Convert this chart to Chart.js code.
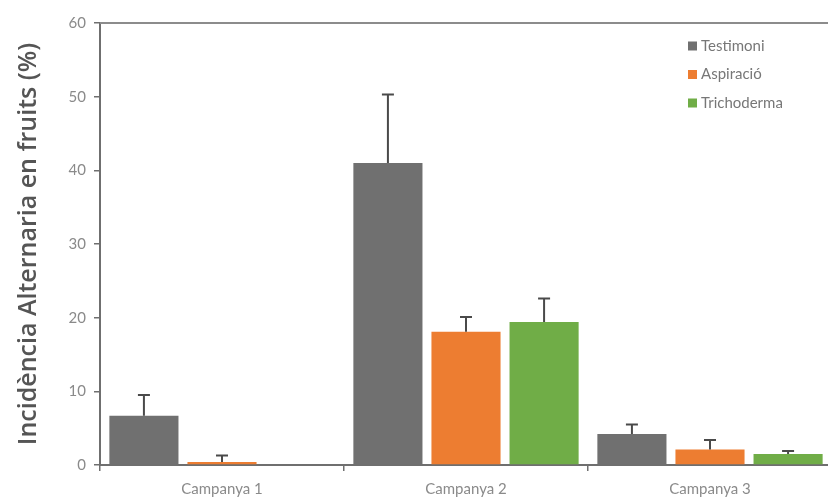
<!DOCTYPE html>
<html>
<head>
<meta charset="utf-8">
<script src="https://cdn.jsdelivr.net/npm/chart.js@4.4.1/dist/chart.umd.min.js"></script>
<style>
  html, body { margin: 0; padding: 0; background: #ffffff; overflow: hidden; }
  #wrap { width: 834px; height: 504px; position: relative; }
</style>
</head>
<body>
<div id="wrap"><canvas id="myChart"></canvas></div>
<script>
// chart values
var campanyes = ["Campanya 1", "Campanya 2", "Campanya 3"];
var testimoni = [6.7, 41.0, 4.2];
var aspiracio = [0.4, 18.1, 2.1];
var trichoderma = [0, 19.4, 1.5];
var errTestimoni = [2.8, 9.3, 1.3];
var errAspiracio = [0.9, 2.0, 1.3];
var errTrichoderma = [0, 3.2, 0.4];
var yTicks = [0, 10, 20, 30, 40, 50, 60];

var axisColor = "#6f6f6f";
var labelColor = "#8a8a8a";

// draws upper error bars, the top frame line and the legend box
var extras = {
    id: "extras",
    afterDatasetsDraw: function (chart) {
        var ctx = chart.ctx;
        var y = chart.scales.y;
        var area = chart.chartArea;
        ctx.save();
        chart.data.datasets.forEach(function (ds, i) {
            var meta = chart.getDatasetMeta(i);
            meta.data.forEach(function (bar, j) {
                var e = ds.errors[j];
                if (!e) return;
                var top = y.getPixelForValue(ds.data[j] + e);
                ctx.strokeStyle = "#4a4a4a";
                ctx.lineWidth = 2;
                ctx.beginPath();
                ctx.moveTo(bar.x, bar.y);
                ctx.lineTo(bar.x, top);
                ctx.moveTo(bar.x - 6, top);
                ctx.lineTo(bar.x + 6, top);
                ctx.stroke();
            });
        });
        // top frame line
        ctx.strokeStyle = "#8c8c8c";
        ctx.lineWidth = 2;
        ctx.beginPath();
        ctx.moveTo(area.left, area.top);
        ctx.lineTo(area.right, area.top);
        ctx.stroke();
        // legend
        ctx.font = "15px Lato";
        ctx.textBaseline = "middle";
        chart.data.datasets.forEach(function (ds, i) {
            var ly = 46 + i * 28.5;
            ctx.fillStyle = ds.backgroundColor;
            ctx.fillRect(688, ly - 4.5, 9, 9);
            ctx.fillStyle = "#777777";
            ctx.fillText(ds.label, 701, ly);
        });
        ctx.restore();
    }
};

var ctx = document.getElementById("myChart");
var myChart = new Chart(ctx, {
    type: "bar",
    data: {
        labels: campanyes,
        datasets: [
            { label: "Testimoni", data: testimoni, errors: errTestimoni, backgroundColor: "#707070" },
            { label: "Aspiració", data: aspiracio, errors: errAspiracio, backgroundColor: "#ed7d31" },
            { label: "Trichoderma", data: trichoderma, errors: errTrichoderma, backgroundColor: "#70ad47" },
        ],
    },
    options: {
        responsive: true,
        maintainAspectRatio: false,
        animation: false,
        layout: { padding: { top: 23, right: 2, left: 0, bottom: 0 } },
        datasets: { bar: { categoryPercentage: 0.96, barPercentage: 0.885 } },
        plugins: {
            legend: { display: false },
            tooltip: { enabled: false },
        },
        scales: {
            x: {
                offset: true,
                grid: { display: true, drawOnChartArea: false, offset: true, tickLength: 6, color: axisColor, lineWidth: 1.5 },
                border: { display: true, color: axisColor, width: 2 },
                ticks: { color: labelColor, font: { family: "Lato", size: 15 }, padding: 9 },
                afterFit: function (s) { s.height = 39; },
            },
            y: {
                min: 0,
                max: 60,
                afterBuildTicks: function (s) { s.ticks = yTicks.map(function (v) { return { value: v }; }); },
                grid: { display: true, drawOnChartArea: false, tickLength: 6, color: axisColor, lineWidth: 1.5 },
                border: { display: true, color: axisColor, width: 2 },
                ticks: { color: labelColor, font: { family: "Lato", size: 15 }, padding: 8 },
                title: {
                    display: true,
                    text: "Incidència Alternaria en fruits (%)",
                    color: "#555555",
                    font: { family: "Open Sans", size: 25, weight: "600" },
                    padding: { top: 14, bottom: 0 },
                },
                afterFit: function (s) { s.width = 100; },
            },
        },
    },
    plugins: [extras],
});
</script>
</body>
</html>
